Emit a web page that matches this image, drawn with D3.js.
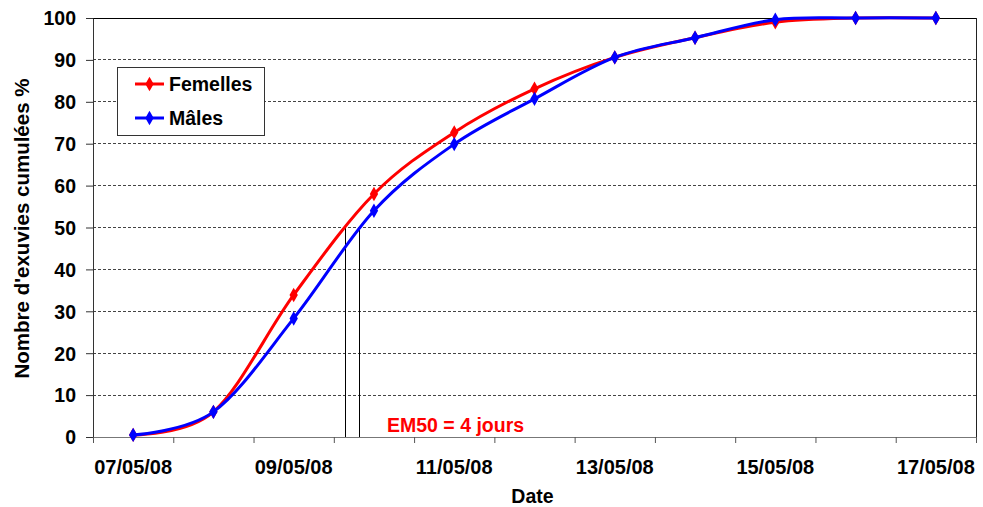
<!DOCTYPE html>
<html><head><meta charset="utf-8">
<script src="https://cdn.jsdelivr.net/npm/d3@7"></script>
<style>
body{margin:0;background:#fff;}
text{font-family:"Liberation Sans",Arial,sans-serif;font-weight:bold;}
</style></head>
<body><svg id="chart" width="983" height="507"></svg>
<script>
// ---- data ----
const dates = ["07/05/08","08/05/08","09/05/08","10/05/08","11/05/08","12/05/08","13/05/08","14/05/08","15/05/08","16/05/08","17/05/08"];
const femelles = [0.5, 6.0, 33.9, 58.0, 72.7, 83.1, 90.6, 95.3, 99.0, 100, 100];
const males    = [0.5, 6.0, 28.3, 54.0, 69.9, 80.7, 90.6, 95.3, 99.6, 100, 100];
const yTicks = [0,10,20,30,40,50,60,70,80,90,100];
const xLabelDays = [0,2,4,6,8,10];
const em50Days = [2.65, 2.825]; // day offsets where curves reach 50 %
const em50Level = 50;
const em50Label = "EM50 = 4 jours";
const seriesNames = ["Femelles","Mâles"];
const seriesColors = ["#ff0000","#0000ff"];

// ---- layout ----
const svg = d3.select("#chart");
const L = 93, R = 976, T = 18, B = 437;
const x = d3.scaleLinear().domain([-0.5, dates.length - 0.5]).range([L, R]);
const y = d3.scaleLinear().domain([0, 100]).range([B, T]);

// gridlines
svg.append("g").selectAll("line").data(yTicks.filter(d => d > 0 && d < 100)).join("line")
  .attr("x1", L).attr("x2", R).attr("y1", d => y(d)).attr("y2", d => y(d))
  .attr("stroke", "#444").attr("stroke-width", 1).attr("stroke-dasharray", "3,2")
  .attr("shape-rendering", "crispEdges");

// plot frame: top & right
svg.append("line").attr("x1", L).attr("x2", R).attr("y1", y(100)).attr("y2", y(100))
  .attr("stroke", "#000").attr("shape-rendering", "crispEdges");
svg.append("line").attr("x1", R).attr("x2", R).attr("y1", T).attr("y2", B)
  .attr("stroke", "#222").attr("shape-rendering", "crispEdges");

// y axis
const yAxis = d3.axisLeft(y).tickValues(yTicks).tickSize(7).tickPadding(10).tickSizeOuter(0);
const gy = svg.append("g").attr("transform", `translate(${L},0)`).call(yAxis);
gy.select(".domain").attr("stroke", "#333");
gy.selectAll(".tick line").attr("stroke", "#333");
gy.selectAll("text").attr("font-size", 19.5).attr("fill", "#000").attr("dy", "0.35em");

// x axis (ticks at day boundaries, labels at day centres)
const boundaries = d3.range(dates.length + 1).map(i => i - 0.5);
const xAxis = d3.axisBottom(x).tickValues(boundaries).tickSize(6).tickFormat("").tickSizeOuter(0);
const gx = svg.append("g").attr("transform", `translate(0,${B})`).call(xAxis);
gx.select(".domain").attr("stroke", "#777");
gx.selectAll(".tick line").attr("stroke", "#555");
svg.append("g").selectAll("text").data(xLabelDays).join("text")
  .attr("x", d => x(d)).attr("y", 474).attr("text-anchor", "middle")
  .attr("font-size", 20).text(d => dates[d]);

// axis titles
svg.append("text").attr("x", (L + R) / 2 - 2).attr("y", 503).attr("text-anchor", "middle")
  .attr("font-size", 19.5).text("Date");
svg.append("text").attr("transform", `translate(29,${(T + B) / 2 + 1}) rotate(-90)`)
  .attr("text-anchor", "middle").attr("font-size", 20.5).text("Nombre d'exuvies cumulées %");

// EM50 markers
svg.append("g").selectAll("line").data(em50Days).join("line")
  .attr("x1", d => x(d)).attr("x2", d => x(d)).attr("y1", B).attr("y2", y(em50Level))
  .attr("stroke", "#000").attr("stroke-width", 1).attr("shape-rendering", "crispEdges");
svg.append("text").attr("x", 387).attr("y", 432).attr("font-size", 19.5)
  .attr("fill", "#ff0000").text(em50Label);

// series
const line = d3.line().x((d, i) => x(i)).y(d => y(d)).curve(d3.curveCatmullRom.alpha(0));
const diamond = d3.symbol().type(d3.symbolDiamond).size(60);
[femelles, males].forEach((vals, k) => {
  const g = svg.append("g");
  g.append("path").attr("d", line(vals)).attr("fill", "none")
    .attr("stroke", seriesColors[k]).attr("stroke-width", 3).attr("stroke-linejoin", "round");
  g.selectAll("path.m").data(vals).join("path").attr("class", "m")
    .attr("d", diamond).attr("transform", (d, i) => `translate(${x(i)},${y(d)})`)
    .attr("fill", seriesColors[k]);
});

// legend
const lg = svg.append("g");
lg.append("rect").attr("x", 117.5).attr("y", 67.5).attr("width", 147).attr("height", 68)
  .attr("fill", "#fff").attr("stroke", "#333").attr("stroke-width", 1);
seriesNames.forEach((name, k) => {
  const cy = 84 + k * 34;
  lg.append("line").attr("x1", 135).attr("x2", 164).attr("y1", cy).attr("y2", cy)
    .attr("stroke", seriesColors[k]).attr("stroke-width", 3);
  lg.append("path").attr("d", diamond).attr("transform", `translate(149.5,${cy})`)
    .attr("fill", seriesColors[k]);
  lg.append("text").attr("x", 169).attr("y", cy + 7).attr("font-size", 19.5).text(name);
});
</script></body></html>
